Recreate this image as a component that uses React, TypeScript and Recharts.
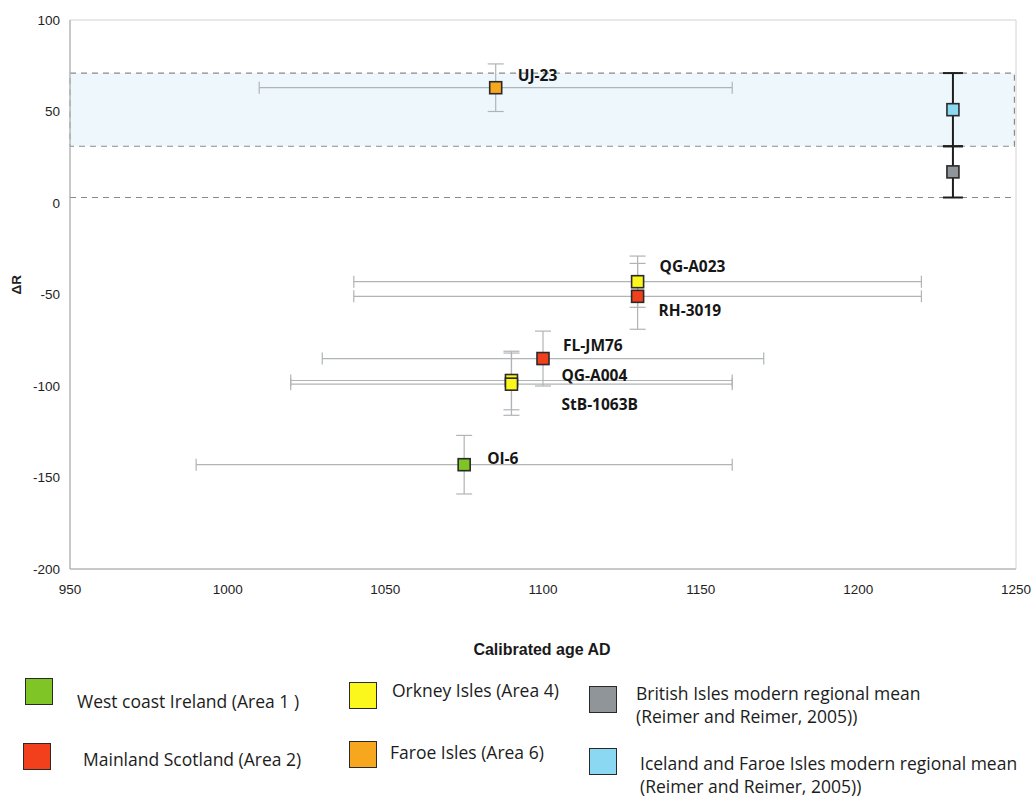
import React from 'react';
import {
  ScatterChart,
  Scatter,
  XAxis,
  YAxis,
  ErrorBar,
  ReferenceArea,
  ReferenceLine,
} from 'recharts';

// Radiocarbon samples: calibrated age (AD) against ΔR, with 1σ ranges
const sampleNames = ['UJ-23', 'QG-A023', 'RH-3019', 'FL-JM76', 'QG-A004', 'StB-1063B', 'OI-6'];
const sampleAreas = ['faroe', 'orkney', 'scotland', 'scotland', 'orkney', 'orkney', 'ireland'];
const calAge = [1085, 1130, 1130, 1100, 1090, 1090, 1075];
const calAgeErr = [75, 90, 90, 70, 70, 70, 85];
const deltaR = [63, -43, -51, -85, -97, -99, -143];
const deltaRErr = [13, 14, 18, 15, 16, 17, 16];

// Modern regional means (Reimer and Reimer, 2005)
const modernAreas = ['british', 'iceland'];
const modernAge = [1230, 1230];
const modernDeltaR = [17, 51];
const modernDeltaRErr = [14, 20];

const xTicks = [950, 1000, 1050, 1100, 1150, 1200, 1250];
const yTicks = [-200, -150, -100, -50, 0, 50, 100];

const areaColors: Record<string, string> = {
  ireland: '#7fc526',
  scotland: '#f2401c',
  orkney: '#fbf71c',
  faroe: '#f7a71d',
  british: '#8f9598',
  iceland: '#8ad8f2',
};

const sampleAreaOrder = ['ireland', 'scotland', 'orkney', 'faroe'];

// label placement relative to each marker centre
const labelOffsets: Record<string, [number, number]> = {
  'UJ-23': [22, -13],
  'QG-A023': [22, -16],
  'RH-3019': [21, 14],
  'FL-JM76': [20, -14],
  'QG-A004': [50, -6],
  'StB-1063B': [50, 20],
  'OI-6': [23, -7],
};

type Row = { name: string; age: number; ageErr: number; dr: number; drErr: number };

const samplesFor = (area: string): Row[] =>
  sampleNames
    .map((name, i) => ({
      name,
      area: sampleAreas[i],
      age: calAge[i],
      ageErr: calAgeErr[i],
      dr: deltaR[i],
      drErr: deltaRErr[i],
    }))
    .filter((r) => r.area === area);

const modernFor = (area: string): Row[] => {
  const i = modernAreas.indexOf(area);
  return [{ name: area, age: modernAge[i], ageErr: 0, dr: modernDeltaR[i], drErr: modernDeltaRErr[i] }];
};

const iceIdx = modernAreas.indexOf('iceland');
const briIdx = modernAreas.indexOf('british');
const bandLow = modernDeltaR[iceIdx] - modernDeltaRErr[iceIdx];
const bandHigh = modernDeltaR[iceIdx] + modernDeltaRErr[iceIdx];
const lowerLine = modernDeltaR[briIdx] - modernDeltaRErr[briIdx];

const makeMarker = (color: string) => (props: any) => {
  const { cx, cy, payload } = props;
  if (cx == null || cy == null) return <g />;
  const off = labelOffsets[payload?.name];
  return (
    <g>
      <rect x={cx - 6} y={cy - 6} width={12} height={12} fill={color} stroke="#2a2a2a" strokeWidth={1.6} />
      {off && (
        <text
          x={cx + off[0]}
          y={cy + off[1]}
          dominantBaseline="central"
          fontFamily="'Open Sans', sans-serif"
          fontWeight={700}
          fontSize={15.5}
          fill="#161616"
        >
          {payload.name}
        </text>
      )}
    </g>
  );
};

const legendItems = [
  { key: 'ireland', lines: ['West coast Ireland (Area 1 )'], box: [25, 678], text: [77, 701] },
  { key: 'scotland', lines: ['Mainland Scotland (Area 2)'], box: [23, 743], text: [83, 759] },
  { key: 'orkney', lines: ['Orkney Isles (Area 4)'], box: [349, 682], text: [392, 690] },
  { key: 'faroe', lines: ['Faroe Isles (Area 6)'], box: [349, 741], text: [390, 752] },
  {
    key: 'british',
    lines: ['British Isles modern regional mean', '(Reimer and Reimer, 2005))'],
    box: [589, 686],
    text: [636, 693],
  },
  {
    key: 'iceland',
    lines: ['Iceland and Faroe Isles modern regional mean', '(Reimer and Reimer, 2005))'],
    box: [589, 748],
    text: [640, 763],
  },
];

const tickStyle = { fontFamily: "'Liberation Sans', Arial, sans-serif", fontSize: 13.5, fill: '#1e1e1e' };

export default function App() {
  return (
    <div style={{ position: 'absolute', left: 0, top: 0, width: 1033, height: 797, background: '#fff', overflow: 'hidden' }}>
      <ScatterChart width={1033} height={600} margin={{ top: 20, right: 17, bottom: 1, left: 10 }}>
        <ReferenceArea
          x1={950}
          x2={1249.5}
          y1={bandLow}
          y2={bandHigh}
          fill="#eef8fc"
          fillOpacity={1}
          stroke="#8a8a8a"
          strokeDasharray="6 5"
          strokeWidth={1.2}
        />
        <ReferenceArea x1={950} x2={1250} y1={-200} y2={100} fill="none" stroke="#d2d2d2" strokeWidth={1} />
        <ReferenceLine y={lowerLine} stroke="#8a8a8a" strokeDasharray="6 5" strokeWidth={1.2} />
        <XAxis
          type="number"
          dataKey="age"
          domain={[950, 1250]}
          ticks={xTicks}
          interval={0}
          height={30}
          axisLine={{ stroke: '#a8a8a8' }}
          tickLine={false}
          tickSize={6}
          tickMargin={9}
          tick={tickStyle}
          allowDataOverflow
        />
        <YAxis
          type="number"
          dataKey="dr"
          domain={[-200, 100]}
          ticks={yTicks}
          interval={0}
          width={60}
          axisLine={{ stroke: '#a8a8a8' }}
          tickLine={false}
          tickSize={6}
          tickMargin={4}
          tick={tickStyle}
          allowDataOverflow
          label={{
            value: 'ΔR',
            angle: -90,
            position: 'insideLeft',
            offset: 6,
            style: { fontFamily: "'Liberation Sans', Arial, sans-serif", fontSize: 13.5, fontWeight: 700, fill: '#222' },
          }}
        />
        {sampleAreaOrder.map((area) => (
          <Scatter
            key={area}
            name={area}
            data={samplesFor(area)}
            isAnimationActive={false}
            shape={makeMarker(areaColors[area])}
          >
            <ErrorBar dataKey="ageErr" direction="x" width={6} stroke="#b0b4b6" strokeWidth={1.2} isAnimationActive={false} />
            <ErrorBar dataKey="drErr" direction="y" width={8} stroke="#b0b4b6" strokeWidth={1.2} isAnimationActive={false} />
          </Scatter>
        ))}
        {modernAreas.map((area) => (
          <Scatter
            key={area}
            name={area}
            data={modernFor(area)}
            isAnimationActive={false}
            shape={makeMarker(areaColors[area])}
          >
            <ErrorBar dataKey="drErr" direction="y" width={10} stroke="#1e1e1e" strokeWidth={2} isAnimationActive={false} />
          </Scatter>
        ))}
      </ScatterChart>

      <div
        style={{
          position: 'absolute',
          left: 0,
          width: 1084,
          top: 641,
          textAlign: 'center',
          fontFamily: "'Liberation Sans', Arial, sans-serif",
          fontWeight: 700,
          fontSize: 16,
          color: '#1a1a1a',
          lineHeight: '18px',
        }}
      >
        Calibrated age AD
      </div>

      {legendItems.map((it) => (
        <React.Fragment key={it.key}>
          <div
            style={{
              position: 'absolute',
              left: it.box[0],
              top: it.box[1],
              width: 26,
              height: 25,
              background: areaColors[it.key],
              border: '1.8px solid #2a2a2a',
            }}
          />
          {it.lines.map((line, j) => (
            <div
              key={j}
              style={{
                position: 'absolute',
                left: it.text[0],
                top: it.text[1] - 10 + j * 23,
                height: 20,
                lineHeight: '20px',
                whiteSpace: 'nowrap',
                fontFamily: "'Open Sans', sans-serif",
                fontSize: 17.5,
                color: '#1c1c1c',
              }}
            >
              {line}
            </div>
          ))}
        </React.Fragment>
      ))}
    </div>
  );
}
